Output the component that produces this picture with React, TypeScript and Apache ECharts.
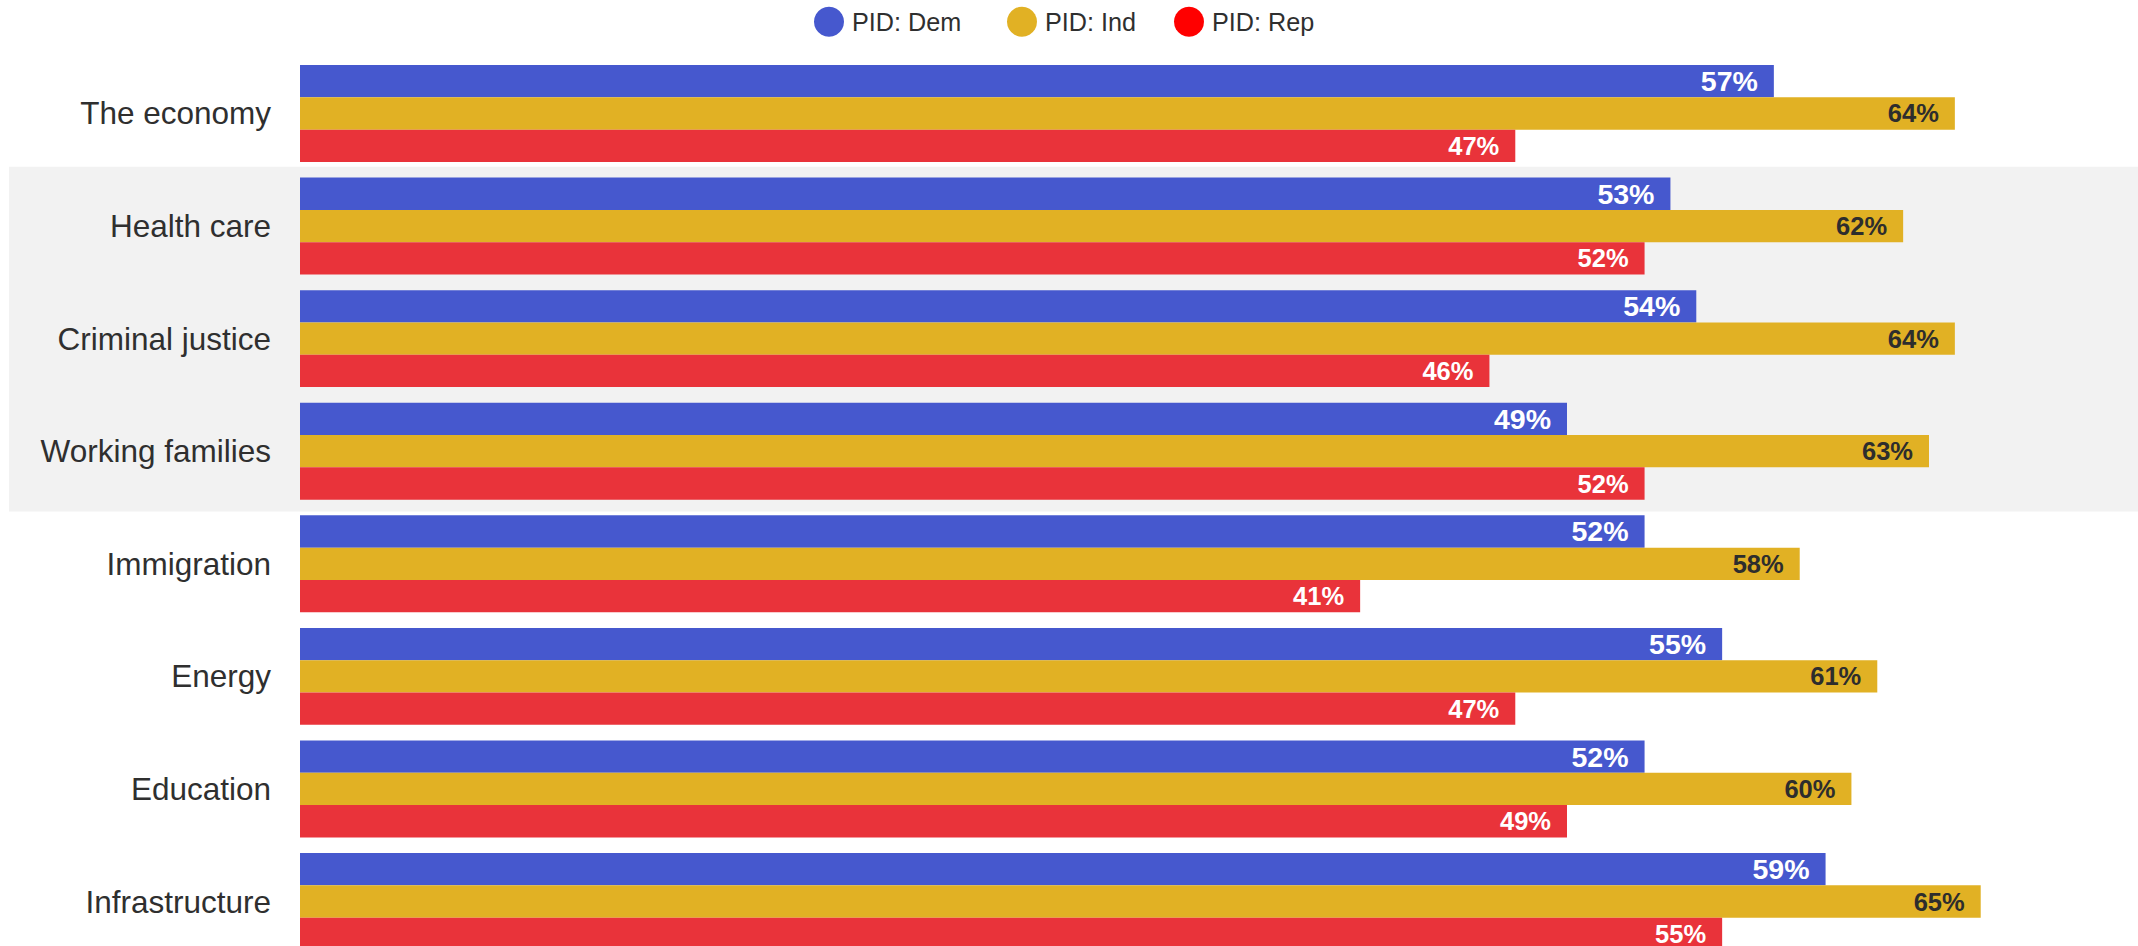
import React, { useEffect, useRef } from "react";
import * as echarts from "echarts";

const categories = [
  "The economy",
  "Health care",
  "Criminal justice",
  "Working families",
  "Immigration",
  "Energy",
  "Education",
  "Infrastructure",
];
const seriesNames = ["PID: Dem", "PID: Ind", "PID: Rep"];
const demValues = [57, 53, 54, 49, 52, 55, 52, 59];
const indValues = [64, 62, 64, 63, 58, 61, 60, 65];
const repValues = [47, 52, 46, 52, 41, 47, 49, 55];
const highlightedCategories = ["Health care", "Criminal justice", "Working families"];

const barColors = ["#4658CE", "#E1B124", "#E9333A"];
const legendColors = ["#4658CE", "#E1B124", "#FF0000"];
const labelColors = ["#ffffff", "#2d2d2d", "#ffffff"];
const labelSizes = [28.5, 25.5, 25.5];
const legendLefts = [814, 1007, 1174];

const FONT = "'Liberation Sans', Arial, sans-serif";

export default function App() {
  const ref = useRef<HTMLDivElement | null>(null);

  useEffect(() => {
    if (!ref.current) return;
    const chart = echarts.init(ref.current, undefined, { renderer: "svg" });
    const values = [demValues, indValues, repValues];

    chart.setOption({
      animation: false,
      textStyle: { fontFamily: FONT },
      legend: seriesNames.map((name, i) => ({
        data: [{ name, itemStyle: { color: legendColors[i] } }],
        left: legendLefts[i],
        top: 6.7,
        icon: "circle",
        itemWidth: 30,
        itemHeight: 30,
        padding: 0,
        selectedMode: false,
        textStyle: {
          fontSize: 25.2,
          color: "#2f2f2f",
          fontFamily: FONT,
          padding: [0, 0, 0, 3],
        },
      })),
      grid: {
        left: 300,
        top: 57.2,
        width: 1810,
        height: 900.6,
        containLabel: false,
        outerBoundsMode: "none",
      },
      xAxis: {
        type: "value",
        min: 0,
        max: 70,
        show: false,
        splitLine: { show: false },
      },
      yAxis: {
        type: "category",
        inverse: true,
        data: categories,
        axisLine: { show: false },
        axisTick: { show: false },
        splitLine: { show: false },
        axisLabel: {
          fontSize: 31.5,
          color: "#2f2f2f",
          margin: 29,
          fontFamily: FONT,
        },
      },
      series: seriesNames.map((name, i) => ({
        name,
        type: "bar",
        data: values[i],
        barGap: "0%",
        barCategoryGap: "13.9%",
        itemStyle: { color: barColors[i] },
        label: {
          show: true,
          position: "insideRight",
          distance: 16,
          formatter: "{c}%",
          color: labelColors[i],
          fontSize: labelSizes[i],
          fontWeight: "bold",
          fontFamily: FONT,
        },
      })),
    });

    const y0 = chart.convertToPixel({ yAxisIndex: 0 }, highlightedCategories[0]) as number;
    const y1 = chart.convertToPixel(
      { yAxisIndex: 0 },
      highlightedCategories[highlightedCategories.length - 1]
    ) as number;
    const band = (y1 - y0) / (highlightedCategories.length - 1);
    const top = y0 - band / 2 - 3;
    const bottom = y1 + band / 2 + 4;
    chart.setOption({
      graphic: [
        {
          type: "rect",
          z: -10,
          silent: true,
          shape: { x: 9, y: top, width: 2138 - 9, height: bottom - top },
          style: { fill: "#f2f2f2" },
        },
      ],
    });

    return () => chart.dispose();
  }, []);

  return (
    <div
      ref={ref}
      style={{ position: "fixed", left: 0, top: 0, width: 2138, height: 946, background: "#ffffff" }}
    />
  );
}
